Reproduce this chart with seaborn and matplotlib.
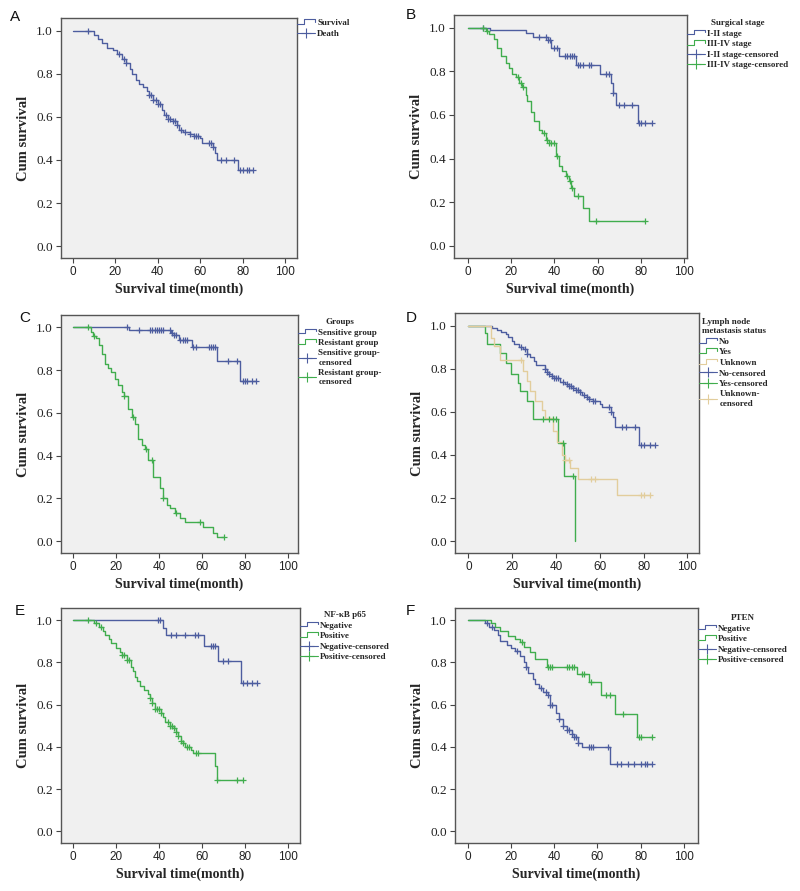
import numpy as np
import pandas as pd
import matplotlib
matplotlib.use("Agg")
import matplotlib.pyplot as plt
import seaborn as sns
from matplotlib.lines import Line2D
from matplotlib.legend_handler import HandlerBase

# ---------------- data ----------------
# Panel A : overall
A_t = [10, 12, 14, 16, 19, 21, 23, 25, 27, 28, 30, 31, 33, 35, 36, 38, 40, 42, 43, 45, 47, 49, 50, 52, 55, 57, 60, 61, 66, 67, 68, 78]
A_s = [0.98, 0.96, 0.94, 0.92, 0.91, 0.89, 0.87, 0.85, 0.82, 0.80, 0.77, 0.75, 0.74, 0.72, 0.70, 0.68, 0.66, 0.63, 0.61, 0.59, 0.58, 0.56, 0.54, 0.53, 0.52, 0.51, 0.50, 0.48, 0.46, 0.43, 0.40, 0.355]
A_c = [7, 22, 24, 25, 36, 37, 38, 39, 40, 41, 44, 45, 46, 47, 48, 49, 51, 53, 55, 57, 58, 59, 64, 65, 66, 70, 72, 76, 79, 80, 82, 83, 85]

# Panel B : surgical stage
B1_t = [10.5, 27, 30, 37, 38.5, 42, 50, 61, 66, 67, 68.5, 78.5]
B1_s = [0.988, 0.975, 0.958, 0.943, 0.905, 0.868, 0.828, 0.787, 0.745, 0.70, 0.645, 0.565]
B1_c = [7, 33, 36, 37, 38, 40, 41, 45, 46, 47, 48, 49, 51, 52, 53, 56, 57, 64, 65, 67, 70, 72, 76, 79, 80, 82, 85]
B2_t = [8.3, 9.8, 12.2, 13.7, 15.2, 17.5, 19, 20.6, 22.2, 23.7, 25.2, 26.8, 27.6, 29, 30.6, 33, 34.5, 36, 37.5, 40.6, 42, 43.7, 45.2, 46.8, 47.5, 49, 53, 56]
B2_s = [0.985, 0.97, 0.948, 0.906, 0.868, 0.837, 0.814, 0.79, 0.776, 0.746, 0.73, 0.693, 0.662, 0.616, 0.571, 0.533, 0.518, 0.487, 0.47, 0.41, 0.365, 0.342, 0.32, 0.297, 0.266, 0.228, 0.175, 0.114]
B2_c = [7.2, 9, 23, 24.5, 25.5, 35, 36.5, 37.5, 38.5, 40, 41, 46, 47, 48, 51, 59, 82]

# Panel C : groups
C1_t = [26, 45.5, 47, 49.5, 55.5, 67, 77.5]
C1_s = [0.99, 0.975, 0.965, 0.943, 0.91, 0.843, 0.748]
C1_c = [25, 31, 36, 37, 38, 39, 40, 41, 42, 45, 46, 47, 48, 50, 51, 52, 53, 56, 57, 63, 64, 65, 66, 72, 76, 79, 80, 81, 83, 85]
C2_t = [8.5, 9.6, 11, 12, 13.4, 15, 16.5, 18, 19.6, 21, 22.7, 24, 25.8, 27.4, 29, 30.4, 32, 33.5, 35, 37.4, 40.5, 42, 43.6, 45, 47.4, 49.8, 52, 60.6, 65, 66.8]
C2_s = [0.98, 0.96, 0.95, 0.92, 0.875, 0.83, 0.81, 0.79, 0.76, 0.73, 0.70, 0.68, 0.62, 0.58, 0.55, 0.48, 0.45, 0.43, 0.38, 0.30, 0.25, 0.20, 0.17, 0.155, 0.13, 0.11, 0.09, 0.065, 0.04, 0.02]
C2_c = [7, 10, 24, 28, 34, 37, 42, 48, 59, 70]

# Panel D : lymph node metastasis status
D1_t = [11, 13, 15, 17, 18, 20, 21, 23, 25, 27, 28, 30, 31, 35, 36, 37, 38, 39, 42, 44, 46, 48, 49, 51, 52, 54, 55, 57, 60, 61, 65, 66, 67, 78]
D1_s = [0.99, 0.98, 0.97, 0.96, 0.945, 0.93, 0.915, 0.90, 0.89, 0.87, 0.855, 0.835, 0.815, 0.80, 0.785, 0.775, 0.765, 0.755, 0.74, 0.73, 0.72, 0.71, 0.70, 0.69, 0.68, 0.67, 0.66, 0.65, 0.635, 0.62, 0.60, 0.575, 0.53, 0.445]
D1_c = [24, 26, 27, 35, 36, 37, 38, 39, 40, 41, 43, 45, 46, 47, 48, 49, 50, 51, 53, 54, 55, 57, 58, 64, 65, 70, 72, 76, 79, 80, 83, 85]
D2_t = [7.6, 8.7, 14.5, 17, 19.5, 22.8, 23.8, 26.6, 29.7, 41, 43.5, 48.8]
D2_s = [0.965, 0.913, 0.874, 0.828, 0.773, 0.734, 0.696, 0.649, 0.567, 0.455, 0.30, 0.0]
D2_c = [34, 37, 38.5, 40, 43, 48]
D3_t = [10.5, 11.9, 14.5, 25, 26.6, 28, 30.4, 33.5, 35, 38.8, 40.5, 42.6, 44, 46.4, 50.2, 67.7]
D3_s = [0.944, 0.905, 0.84, 0.79, 0.742, 0.696, 0.65, 0.61, 0.57, 0.51, 0.46, 0.40, 0.377, 0.34, 0.29, 0.214]
D3_c = [24, 44, 46, 56, 58, 79, 80, 83]

# Panel E : NF-kB p65
E1_t = [41.7, 43.3, 61, 67.5, 78]
E1_s = [0.962, 0.93, 0.879, 0.806, 0.704]
E1_c = [39.5, 40.5, 45.5, 48, 52, 56.5, 58, 64, 65, 66, 69.5, 72, 79, 81, 83, 85.5]
E2_t = [10, 12, 14, 15, 17, 18, 20, 22, 23, 25, 27, 28, 29, 30, 31, 33, 35, 36, 37, 38, 41, 42, 43, 45, 47, 48, 49, 50, 51, 52, 55, 56, 66, 67]
E2_s = [0.985, 0.97, 0.95, 0.93, 0.91, 0.89, 0.87, 0.85, 0.835, 0.81, 0.78, 0.76, 0.73, 0.71, 0.69, 0.67, 0.65, 0.63, 0.61, 0.58, 0.56, 0.54, 0.52, 0.50, 0.49, 0.47, 0.45, 0.43, 0.42, 0.40, 0.385, 0.37, 0.31, 0.245]
E2_c = [7, 11, 13, 23, 24, 25, 26, 36, 37, 38, 39, 40, 41, 44, 45, 46, 47, 48, 49, 50, 51, 53, 54, 57, 58, 67, 76, 79]

# Panel F : PTEN
F1_t = [8, 10, 12, 14, 15, 18, 20, 22, 24, 26, 27, 28, 30, 31, 33, 35, 37, 38, 41, 42, 44, 46, 48, 49, 51, 53, 66]
F1_s = [0.985, 0.97, 0.955, 0.93, 0.90, 0.885, 0.87, 0.855, 0.83, 0.80, 0.78, 0.75, 0.72, 0.70, 0.68, 0.66, 0.645, 0.60, 0.56, 0.53, 0.50, 0.48, 0.46, 0.445, 0.42, 0.40, 0.32]
F1_c = [9, 11, 23, 27, 34, 36, 37, 38, 39, 42, 44, 46, 47, 48, 49, 50, 51, 56, 57, 58, 65, 69, 71, 74, 77, 80, 82, 83, 85]
F2_t = [10.8, 12.6, 15, 18.8, 21.9, 24.2, 26.2, 28.8, 31.1, 36.5, 50.4, 56, 61.5, 68, 78.5]
F2_s = [0.986, 0.967, 0.95, 0.927, 0.91, 0.896, 0.875, 0.85, 0.817, 0.778, 0.746, 0.707, 0.644, 0.554, 0.446]
F2_c = [25, 37, 38, 39, 46, 47, 48, 49, 53, 54, 57, 64, 66, 72, 79, 80, 85]

x_ticks = [0, 20, 40, 60, 80, 100]
y_ticks = [0.0, 0.2, 0.4, 0.6, 0.8, 1.0]

BLUE = "#4d5d9f"
GREEN = "#40ad4d"
TAN = "#e2cd9c"

# ---------------- styling ----------------
sns.set_style("white")
SERIF = "Liberation Serif"
SANS = "Liberation Sans"
plt.rcParams["font.family"] = [SANS, "DejaVu Sans"]

W, H = 800, 891
fig = plt.figure(figsize=(W / 100, H / 100), dpi=100)


def rect(l, t, r, b):
    return [l / W, 1 - b / H, (r - l) / W, (b - t) / H]


class StepLine(Line2D):
    pass


class StepHandler(HandlerBase):
    def create_artists(self, legend, orig_handle, xdescent, ydescent,
                       width, height, fontsize, trans):
        x0, y0 = -xdescent, -ydescent
        xs = [x0, x0 + 0.4 * width, x0 + 0.4 * width, x0 + width, x0 + width]
        ys = [y0 + 0.2 * height, y0 + 0.2 * height, y0 + 0.95 * height,
              y0 + 0.95 * height, y0 + 0.55 * height]
        ln = Line2D(xs, ys, color=orig_handle.get_color(), lw=0.8)
        ln.set_transform(trans)
        return [ln]


def step_frame(times, surv, cens, name):
    t = [0.0] + list(times)
    s = [1.0] + list(surv)
    if len(cens) and max(cens) > t[-1] and s[-1] > 0:
        t.append(max(cens))
        s.append(s[-1])
    return pd.DataFrame({"time": t, "surv": s, "group": name})


def cens_frame(times, surv, cens, name):
    tt = np.array([0.0] + list(times))
    ss = np.array([1.0] + list(surv))
    c = np.array(cens, dtype=float)
    idx = np.searchsorted(tt, c, side="right") - 1
    return pd.DataFrame({"time": c, "surv": ss[idx], "group": name})


panels = [
    dict(letter="A", lpos=(15, 17), box=(61, 18, 297, 258), xlim=(-5.5, 105.6),
         curves=[("Survival", A_t, A_s, A_c, BLUE)],
         labels=["Survival", "Death"], title=None, leg=(297, 19)),
    dict(letter="B", lpos=(411, 15), box=(454, 15, 687, 258), xlim=(-6.3, 101.2),
         curves=[("I-II stage", B1_t, B1_s, B1_c, BLUE), ("III-IV stage", B2_t, B2_s, B2_c, GREEN)],
         labels=["I-II stage", "III-IV stage", "I-II stage-censored", "III-IV stage-censored"],
         title="Surgical stage", leg=(687, 19)),
    dict(letter="C", lpos=(25, 318), box=(61, 315, 298, 553), xlim=(-5.4, 104.5),
         curves=[("Sensitive group", C1_t, C1_s, C1_c, BLUE), ("Resistant group", C2_t, C2_s, C2_c, GREEN)],
         labels=["Sensitive group", "Resistant group", "Sensitive group-\ncensored", "Resistant group-\ncensored"],
         title="Groups", leg=(298, 318)),
    dict(letter="D", lpos=(411, 318), box=(455, 313, 699, 553), xlim=(-6.1, 105.3),
         curves=[("No", D1_t, D1_s, D1_c, BLUE), ("Yes", D2_t, D2_s, D2_c, GREEN), ("Unknown", D3_t, D3_s, D3_c, TAN)],
         labels=["No", "Yes", "Unknown", "No-censored", "Yes-censored", "Unknown-\ncensored"],
         title="Lymph node\nmetastasis status", leg=(699, 318)),
    dict(letter="E", lpos=(20, 611), box=(61, 608, 300, 843), xlim=(-5.4, 105.4),
         curves=[("Negative", E1_t, E1_s, E1_c, BLUE), ("Positive", E2_t, E2_s, E2_c, GREEN)],
         labels=["Negative", "Positive", "Negative-censored", "Positive-censored"],
         title="NF-\u03baB p65", leg=(300, 611)),
    dict(letter="F", lpos=(410, 611), box=(455, 608, 698, 843), xlim=(-5.9, 106.5),
         curves=[("Negative", F1_t, F1_s, F1_c, BLUE), ("Positive", F2_t, F2_s, F2_c, GREEN)],
         labels=["Negative", "Positive", "Negative-censored", "Positive-censored"],
         title="PTEN", leg=(698, 614)),
]

for p in panels:
    ax = fig.add_axes(rect(*p["box"]))
    ax.set_facecolor("#f0f0f0")
    for i, (name, t, s, c, col) in enumerate(p["curves"]):
        key = f"{name}_{i}"
        sdf = step_frame(t, s, c, key)
        cdf = cens_frame(t, s, c, key)
        sns.lineplot(data=sdf, x="time", y="surv", estimator=None, sort=False,
                     drawstyle="steps-post", color=col, lw=1.0, ax=ax, legend=False)
        sns.scatterplot(data=cdf, x="time", y="surv", marker="+", s=24,
                        color=col, linewidth=0.9, ax=ax, legend=False, zorder=3)
    ax.set_xlim(*p["xlim"])
    ax.set_ylim(-0.055, 1.058)
    ax.set_xticks(x_ticks)
    ax.set_yticks(y_ticks)
    ax.set_xticklabels([str(v) for v in x_ticks], fontsize=8.5, family=SANS, color="#222222")
    ax.set_yticklabels([f"{v:.1f}" for v in y_ticks], fontsize=9.5, family=SERIF, color="#222222")
    ax.tick_params(axis="both", direction="out", length=3.5, width=0.8, colors="#444444",
                   labelcolor="#222222", pad=2.5, left=True, bottom=True)
    for sp in ax.spines.values():
        sp.set_color("#555555")
        sp.set_linewidth(1.0)
    ax.set_xlabel("Survival time(month)", fontsize=10, family=SERIF, weight="bold", labelpad=3)
    ax.set_ylabel("Cum survival", fontsize=10.5, family=SERIF, weight="bold", labelpad=4)

    # legend
    handles = []
    for name, t, s, c, col in p["curves"]:
        handles.append(StepLine([], [], color=col, lw=0.8))
    for name, t, s, c, col in p["curves"]:
        handles.append(Line2D([], [], color=col, lw=0.8, marker="+", markersize=7, markeredgewidth=0.8))
    if p["title"] is None:
        handles = [handles[0], handles[1]]
    lx, ly = p["leg"]
    leg = ax.legend(handles, p["labels"], title=p["title"], loc="upper left",
                    bbox_to_anchor=(lx / W, 1 - ly / H), bbox_transform=fig.transFigure,
                    frameon=False, borderpad=0, borderaxespad=0, handlelength=2.0,
                    handletextpad=0.25, labelspacing=0.25, numpoints=1,
                    prop={"family": SERIF, "weight": "bold", "size": 6.5},
                    title_fontproperties={"family": SERIF, "weight": "bold", "size": 6.5},
                    handler_map={StepLine: StepHandler()})
    leg._legend_box.align = "center"

    fig.text(p["lpos"][0] / W, 1 - p["lpos"][1] / H, p["letter"], fontsize=11,
             family=SANS, ha="center", va="center", color="#111111")

fig.savefig("out.png", dpi=100, facecolor="white")
